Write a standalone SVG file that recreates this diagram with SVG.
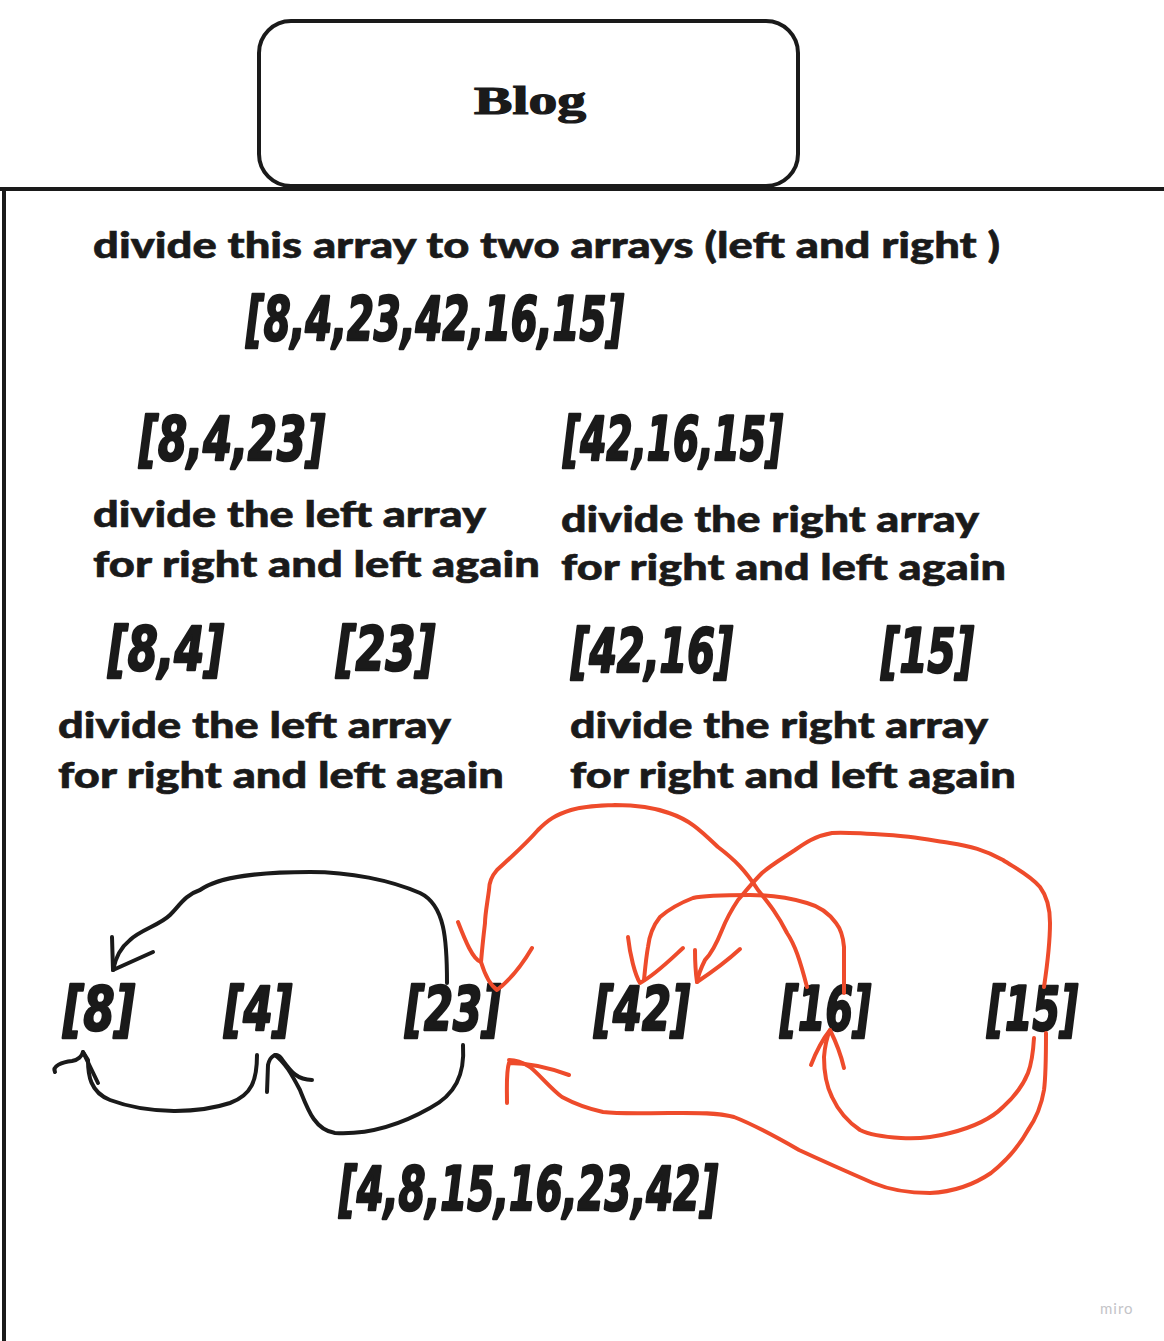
<svg xmlns="http://www.w3.org/2000/svg" width="1164" height="1341" viewBox="0 0 1164 1341">
<style>
.t{font-family:Lato,"Noto Sans",sans-serif;font-weight:900;font-size:36px;fill:#1a1a1a;stroke:#1a1a1a;stroke-width:0.6}
.n{font-family:"DejaVu Sans Condensed","DejaVu Sans",sans-serif;font-weight:700;font-style:italic;font-size:60px;fill:#1a1a1a;stroke:#1a1a1a;stroke-width:2.4;stroke-linejoin:round}
.k{fill:none;stroke:#1a1a1a;stroke-width:4;stroke-linecap:round;stroke-linejoin:round}
.r{fill:none;stroke:#ee4b2b;stroke-width:4;stroke-linecap:round;stroke-linejoin:round}
</style>
<rect width="1164" height="1341" fill="#ffffff"/>
<g id="frame">
<path d="M0,189 H1164 M4,189 V1341" stroke="#1a1a1a" stroke-width="4" fill="none"/>
</g>
<g id="blog">
<rect x="259" y="21" width="539" height="165" rx="32" fill="#ffffff" stroke="#1a1a1a" stroke-width="4"/>
<text x="530" y="114" text-anchor="middle" font-family="'Liberation Serif',serif" font-weight="700" font-size="40" fill="#1a1a1a" stroke="#1a1a1a" stroke-width="1.2" textLength="112" lengthAdjust="spacingAndGlyphs">Blog</text>
</g>
<g id="texts">
<text class="t" x="93" y="258" textLength="907" lengthAdjust="spacingAndGlyphs">divide this array to two arrays (left and right )</text>
<text class="n" x="246" y="340" textLength="378" lengthAdjust="spacingAndGlyphs">[8,4,23,42,16,15]</text>
<text class="n" x="139" y="460" textLength="186" lengthAdjust="spacingAndGlyphs">[8,4,23]</text>
<text class="n" x="563" y="460" textLength="220" lengthAdjust="spacingAndGlyphs">[42,16,15]</text>
<text class="t" x="93" y="527" textLength="393" lengthAdjust="spacingAndGlyphs">divide the left array</text>
<text class="t" x="93" y="577" textLength="447" lengthAdjust="spacingAndGlyphs">for right and left again</text>
<text class="t" x="561" y="532" textLength="418" lengthAdjust="spacingAndGlyphs">divide the right array</text>
<text class="t" x="561" y="580" textLength="445" lengthAdjust="spacingAndGlyphs">for right and left again</text>
<text class="n" x="108" y="670" textLength="116" lengthAdjust="spacingAndGlyphs">[8,4]</text>
<text class="n" x="336" y="670" textLength="99" lengthAdjust="spacingAndGlyphs">[23]</text>
<text class="n" x="571" y="672" textLength="162" lengthAdjust="spacingAndGlyphs">[42,16]</text>
<text class="n" x="881" y="672" textLength="93" lengthAdjust="spacingAndGlyphs">[15]</text>
<text class="t" x="58" y="738" textLength="393" lengthAdjust="spacingAndGlyphs">divide the left array</text>
<text class="t" x="58" y="788" textLength="446" lengthAdjust="spacingAndGlyphs">for right and left again</text>
<text class="t" x="570" y="738" textLength="418" lengthAdjust="spacingAndGlyphs">divide the right array</text>
<text class="t" x="570" y="788" textLength="446" lengthAdjust="spacingAndGlyphs">for right and left again</text>
<text class="n" x="63" y="1030" textLength="72" lengthAdjust="spacingAndGlyphs">[8]</text>
<text class="n" x="224" y="1030" textLength="68" lengthAdjust="spacingAndGlyphs">[4]</text>
<text class="n" x="405" y="1030" textLength="96" lengthAdjust="spacingAndGlyphs">[23]</text>
<text class="n" x="594" y="1030" textLength="96" lengthAdjust="spacingAndGlyphs">[42]</text>
<text class="n" x="780" y="1030" textLength="91" lengthAdjust="spacingAndGlyphs">[16]</text>
<text class="n" x="987" y="1030" textLength="91" lengthAdjust="spacingAndGlyphs">[15]</text>
<text class="n" x="339" y="1210" textLength="379" lengthAdjust="spacingAndGlyphs">[4,8,15,16,23,42]</text>
<text x="1100" y="1314" font-family="Lato,sans-serif" font-size="15" letter-spacing="1" fill="#c4c4c8">miro</text>
</g>
<g id="connectors">
<path class="k" d="M447,983 C447,940 445,905 420,893 C390,880 350,872 310,872 C260,872 220,876 200,890 C185,895 180,905 170,915 C160,925 140,930 130,940 C120,948 115,960 113,970"/>
<path class="k" d="M112,937 L113,970 L153,952"/>
<path class="k" d="M257,1055 C257,1080 252,1095 230,1103 C200,1113 150,1115 110,1100 C90,1092 88,1075 88,1060 L83,1052"/>
<path class="k" d="M55,1072 C52,1066 62,1062 72,1061 C78,1060 82,1056 83,1052 L98,1083"/>
<path class="k" d="M463,1045 C465,1075 455,1095 430,1108 C400,1125 370,1135 335,1133 C315,1130 308,1110 300,1090 C292,1075 285,1062 275,1055"/>
<path class="k" d="M267,1092 L268,1065 C270,1056 276,1052 281,1058 C290,1070 296,1080 312,1080"/>
<path class="r" d="M807,987 C800,960 795,945 787,933 C778,915 770,905 758,890 C745,870 735,860 718,847 C700,830 690,820 669,813 C650,806 630,805 615,805 C595,806 585,806 571,810 C555,815 548,820 538,830 C525,845 510,858 497,870 C490,878 489,885 489,890 C487,905 485,915 485,923 C483,940 482,950 481,962"/>
<path class="r" d="M458,922 C465,940 473,960 481,962 C485,975 490,985 497,990 C510,980 522,965 532,948"/>
<path class="r" d="M1044,987 C1048,960 1050,945 1050,923 C1050,905 1046,895 1040,887 C1030,875 1015,868 1003,860 C985,850 970,846 950,843 C930,840 910,836 889,835 C860,833 845,832 832,833 C815,836 805,843 795,850 C780,860 770,866 762,873 C752,883 745,892 738,900 C730,912 726,920 722,930 C716,945 710,955 705,960 C700,970 698,976 697,982"/>
<path class="r" d="M695,950 C695,965 696,975 697,982 C712,972 728,960 740,949"/>
<path class="r" d="M844,993 C844,975 844,960 844,947 C843,935 840,928 836,923 C828,912 818,906 807,903 C790,898 770,895 750,895 C725,895 705,895 693,898 C680,903 668,910 660,917 C652,927 649,938 648,947 C646,958 645,970 644,980"/>
<path class="r" d="M628,937 C630,955 635,975 640,983 C655,975 670,960 683,948"/>
<path class="r" d="M1034,1038 C1033,1055 1031,1065 1028,1073 C1022,1088 1013,1098 1003,1107 C990,1120 970,1128 950,1133 C935,1137 915,1139 901,1138 C885,1137 870,1135 860,1130 C848,1122 838,1110 832,1097 C826,1085 824,1070 824,1057 C825,1045 827,1037 830,1030"/>
<path class="r" d="M811,1065 C816,1052 822,1040 830,1030 C836,1042 841,1055 844,1068"/>
<path class="r" d="M1046,1033 C1046,1055 1046,1075 1044,1090 C1041,1108 1035,1120 1028,1130 C1018,1148 1005,1162 991,1173 C972,1186 950,1192 930,1193 C910,1193 890,1190 873,1183 C850,1173 825,1162 799,1150 C778,1138 755,1125 734,1117 C715,1112 690,1113 669,1113 C645,1113 620,1114 603,1112 C585,1108 575,1104 562,1097 C550,1088 540,1075 530,1067 C522,1062 515,1060 509,1060"/>
<path class="r" d="M507,1103 C507,1088 506,1072 509,1063 C530,1063 550,1068 569,1075"/>
</g>
</svg>
